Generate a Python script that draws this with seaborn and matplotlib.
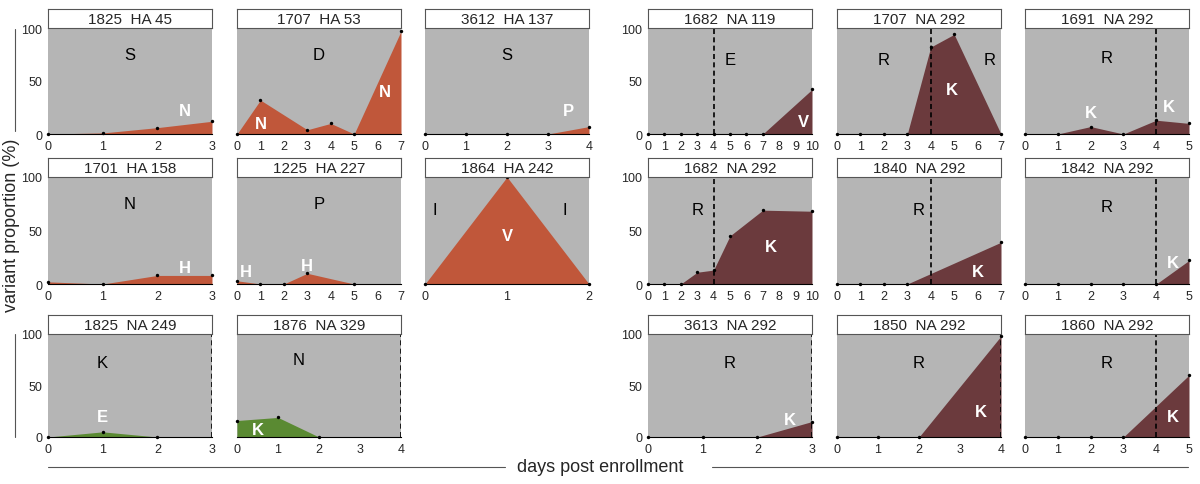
#coding utf-8
import matplotlib.pyplot as plt
import numpy as np
import seaborn as sns

ORANGE = '#c0573a'
MAROON = '#6b3a3d'
GREEN = '#5a8a32'
GRAY = '#b5b5b5'

## パネルのデータ (row, col, title, xmax, x, y, color, dashed, labels)
PANELS = [
    (0, 0, '1825  HA 45', 3, [0, 1, 2, 3], [0, 1, 6, 12], ORANGE, None,
     [('S', 1.5, 75, 'k'), ('N', 2.5, 22, 'w')]),
    (0, 1, '1707  HA 53', 7, [0, 1, 3, 4, 5, 7], [0, 32, 4, 10, 0, 97], ORANGE, None,
     [('D', 3.5, 75, 'k'), ('N', 1, 10, 'w'), ('N', 6.3, 40, 'w')]),
    (0, 2, '3612  HA 137', 4, [0, 1, 2, 3, 4], [0, 0, 0, 0, 7], ORANGE, None,
     [('S', 2, 75, 'k'), ('P', 3.5, 22, 'w')]),
    (0, 3, '1682  NA 119', 10, [0, 1, 2, 3, 4, 5, 6, 7, 10], [0, 0, 0, 0, 0, 0, 0, 0, 42], MAROON, 4,
     [('E', 5, 70, 'k'), ('V', 9.5, 12, 'w')]),
    (0, 4, '1707  NA 292', 7, [0, 1, 2, 3, 4, 5, 7], [0, 0, 0, 0, 82, 94, 0], MAROON, 4,
     [('R', 2, 70, 'k'), ('R', 6.5, 70, 'k'), ('K', 4.9, 42, 'w')]),
    (0, 5, '1691  NA 292', 5, [0, 1, 2, 3, 4, 5], [0, 0, 7, 0, 13, 10], MAROON, 4,
     [('R', 2.5, 72, 'k'), ('K', 2, 20, 'w'), ('K', 4.4, 26, 'w')]),
    (1, 0, '1701  HA 158', 3, [0, 1, 2, 3], [2, 0, 8, 8], ORANGE, None,
     [('N', 1.5, 75, 'k'), ('H', 2.5, 15, 'w')]),
    (1, 1, '1225  HA 227', 7, [0, 1, 2, 3, 5], [3, 0, 0, 10, 0], ORANGE, None,
     [('P', 3.5, 75, 'k'), ('H', 0.4, 12, 'w'), ('H', 3, 17, 'w')]),
    (1, 2, '1864  HA 242', 2, [0, 1, 2], [0, 100, 0], ORANGE, None,
     [('I', 0.12, 70, 'k'), ('I', 1.7, 70, 'k'), ('V', 1, 45, 'w')]),
    (1, 3, '1682  NA 292', 10, [0, 1, 2, 3, 4, 5, 7, 10], [0, 0, 0, 11, 13, 45, 69, 68], MAROON, 4,
     [('R', 3, 70, 'k'), ('K', 7.5, 35, 'w')]),
    (1, 4, '1840  NA 292', 7, [0, 1, 2, 3, 7], [0, 0, 0, 0, 39], MAROON, 4,
     [('R', 3.5, 70, 'k'), ('K', 6, 12, 'w')]),
    (1, 5, '1842  NA 292', 5, [0, 1, 2, 3, 4, 5], [0, 0, 0, 0, 0, 22], MAROON, 4,
     [('R', 2.5, 72, 'k'), ('K', 4.5, 20, 'w')]),
    (2, 0, '1825  NA 249', 3, [0, 1, 2], [0, 5, 0], GREEN, 3,
     [('K', 1, 72, 'k'), ('E', 1, 20, 'w')]),
    (2, 1, '1876  NA 329', 4, [0, 1, 2], [16, 19, 0], GREEN, 4,
     [('N', 1.5, 75, 'k'), ('K', 0.5, 7, 'w')]),
    (2, 3, '3613  NA 292', 3, [0, 1, 2, 3], [0, 0, 0, 15], MAROON, 3,
     [('R', 1.5, 72, 'k'), ('K', 2.6, 17, 'w')]),
    (2, 4, '1850  NA 292', 4, [0, 1, 2, 4], [0, 0, 0, 98], MAROON, 4,
     [('R', 2, 72, 'k'), ('K', 3.5, 25, 'w')]),
    (2, 5, '1860  NA 292', 5, [0, 1, 2, 3, 5], [0, 0, 0, 0, 60], MAROON, 4,
     [('R', 2.5, 72, 'k'), ('K', 4.5, 20, 'w')]),
]

W, H = 1200, 485
COL_X = [48, 237, 425, 648, 837, 1025]  # 左端 (px)
COL_W = 164
ROW_Y = [(29, 135), (178, 285), (335, 438)]  # 上端, 下端 (px)


def px_rect(x0, y0, x1, y1):
    return [x0 / W, 1 - y1 / H, (x1 - x0) / W, (y1 - y0) / H]


def draw_panel(fig, p):
    row, col, title, xmax, x, y, color, dashed, labels = p
    top, bot = ROW_Y[row]
    x0 = COL_X[col]
    ax = fig.add_axes(px_rect(x0, top, x0 + COL_W, bot))
    ax.set_facecolor(GRAY)
    ax.fill_between(x, y, 0, color=color, lw=0)
    sns.scatterplot(x=x, y=y, ax=ax, color='k', s=6, linewidth=0, zorder=3, clip_on=False)
    if dashed is not None:
        ax.axvline(dashed, color='k', ls='--', lw=1.2, dashes=(3, 2))
    for t, tx, ty, c in labels:
        ax.text(tx, ty, t, color=c, fontsize=12, ha='center', va='center',
                fontweight='bold' if c == 'w' else 'normal')
    ax.set_xlim(0, xmax)
    ax.set_ylim(0, 100)
    ax.set_xticks(range(0, xmax + 1))
    ax.set_yticks([0, 50, 100])
    if col not in (0, 3):
        ax.set_yticklabels([])
    ax.tick_params(labelsize=9, length=2, pad=2)
    for s in ['top', 'right', 'left']:
        ax.spines[s].set_visible(False)
    ax.spines['bottom'].set_color('k')

    # タイトルの箱
    tax = fig.add_axes(px_rect(x0, top - 19, x0 + COL_W, top))
    tax.set_xticks([])
    tax.set_yticks([])
    tax.text(0.5, 0.45, title, ha='center', va='center', fontsize=11, transform=tax.transAxes)
    for s in tax.spines.values():
        s.set_color('#555555')


def main():
    sns.set_style('white')
    plt.rcParams['font.family'] = ['Arial', 'Liberation Sans', 'DejaVu Sans']
    fig = plt.figure(figsize=(12, 4.85), dpi=100)

    for p in PANELS:
        draw_panel(fig, p)

    fig.text(12 / W, 1 - 225 / H, 'variant proportion (%)', rotation=90,
             ha='center', va='center', fontsize=13)
    fig.text(600 / W, 1 - 468 / H, 'days post enrollment', ha='center', va='center', fontsize=13)
    fig.add_artist(plt.Line2D([15 / W, 15 / W], [1 - 30 / H, 1 - 132 / H], color='#555555', lw=0.8))
    fig.add_artist(plt.Line2D([15 / W, 15 / W], [1 - 335 / H, 1 - 438 / H], color='#555555', lw=0.8))
    fig.add_artist(plt.Line2D([48 / W, 505 / W], [1 - 468 / H] * 2, color='#555555', lw=0.8))
    fig.add_artist(plt.Line2D([712 / W, 1188 / W], [1 - 468 / H] * 2, color='#555555', lw=0.8))

    fig.savefig('out.png', dpi=100)


if __name__ == "__main__":
    main()
